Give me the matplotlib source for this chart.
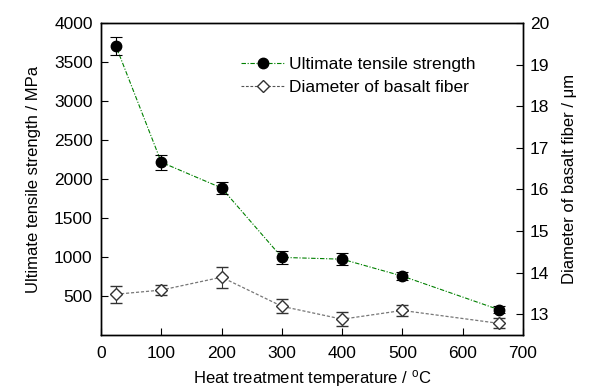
import matplotlib.pyplot as plt
from matplotlib.lines import Line2D

plt.rcParams['font.family'] = ['Liberation Sans', 'DejaVu Sans']
plt.rcParams['mathtext.default'] = 'regular'

# heat treatment temperature (C)
temp = [25, 100, 200, 300, 400, 500, 660]
# ultimate tensile strength (MPa) and error
strength = [3700, 2215, 1885, 995, 972, 755, 325]
strength_err = [115, 95, 78, 85, 75, 55, 45]
# fiber diameter (um) and error
diameter = [13.48, 13.58, 13.89, 13.19, 12.88, 13.09, 12.78]
diameter_err = [0.20, 0.12, 0.25, 0.17, 0.17, 0.14, 0.12]

fig = plt.figure(figsize=(5.96, 3.9), dpi=100)
ax = fig.add_axes([101/596, 1-335/390, 422/596, 312/390])
ax2 = ax.twinx()

ax.errorbar(temp, strength, yerr=strength_err, fmt='o', color='black', ms=7.5,
            capsize=4, elinewidth=0.8, capthick=0.8, zorder=3)
ax.plot(temp, strength, color='green', lw=0.8, ls=(0, (4, 1.5, 1, 1.5)), zorder=2)

ax2.plot(temp, diameter, color='#777777', lw=0.9, ls=(0, (2.5, 1.5)), zorder=2)
ax2.errorbar(temp, diameter, yerr=diameter_err, fmt='D', color='#333333', mfc='white',
             mec='#333333', ms=6.5, mew=1, capsize=4, elinewidth=0.8, capthick=0.8, zorder=3)

ax.set_xlim(0, 700)
ax.set_ylim(0, 4000)
ax2.set_ylim(12.5, 20)
ax.set_xticks(range(0, 701, 100))
ax.set_yticks(range(500, 4001, 500))
ax2.set_yticks(range(13, 21))

for a in (ax, ax2):
    a.tick_params(direction='in', labelsize=12.5, length=5, width=0.8, pad=6)
    for s in a.spines.values():
        s.set_linewidth(1)
ax.tick_params(axis='x', pad=8)
ax2.tick_params(pad=5)

ax.set_xlabel('Heat treatment temperature / $^{o}$C', fontsize=12, labelpad=5)
ax.set_ylabel('Ultimate tensile strength / MPa', fontsize=12, labelpad=9)
ax2.set_ylabel('Diameter of basalt fiber / μm', fontsize=12, labelpad=9)

h1 = Line2D([], [], color='green', lw=0.8, ls=(0, (4, 1.5, 1, 1.5)), marker='o',
            mfc='black', mec='black', ms=7.5)
h2 = Line2D([], [], color='#555555', lw=0.8, ls=(0, (2.5, 1.5)), marker='D',
            mfc='white', mec='#333333', ms=6.5)
ax.legend([h1, h2], ['Ultimate tensile strength', 'Diameter of basalt fiber'],
          loc='upper left', bbox_to_anchor=(0.295, 0.94), frameon=False,
          fontsize=12.5, handlelength=2.5, handletextpad=0.25, labelspacing=0.42)

fig.savefig('out.png', dpi=100)
